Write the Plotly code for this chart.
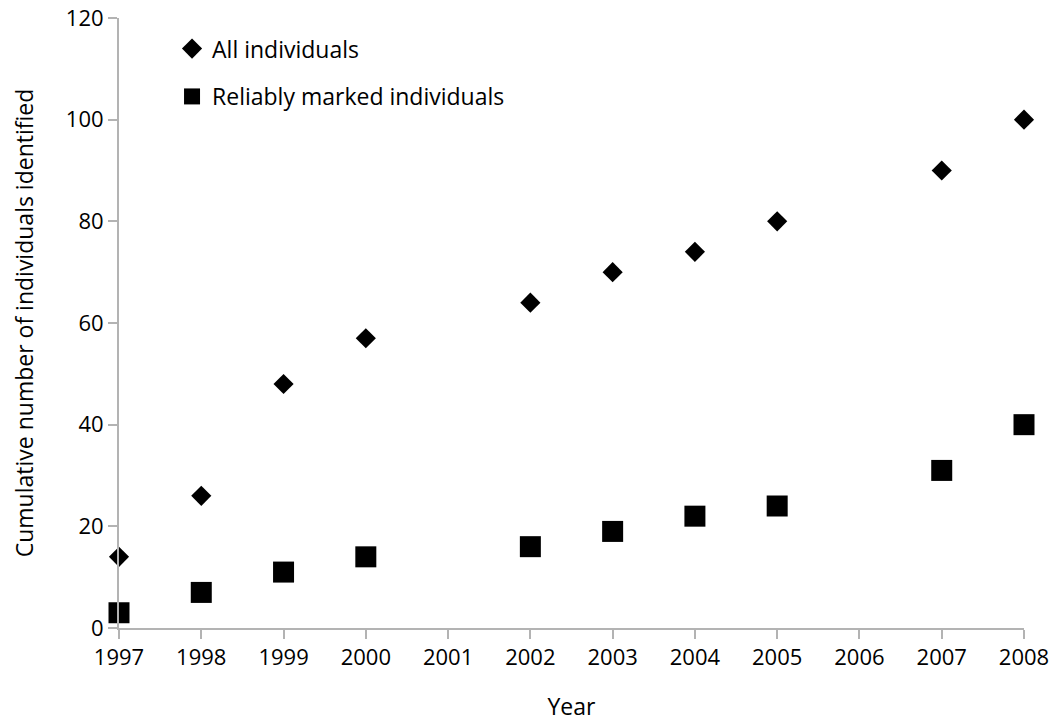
import plotly.graph_objects as go

years_all = [1997, 1998, 1999, 2000, 2002, 2003, 2004, 2005, 2007, 2008]
all_individuals = [14, 26, 48, 57, 64, 70, 74, 80, 90, 100]
years_rel = [1997, 1998, 1999, 2000, 2002, 2003, 2004, 2005, 2007, 2008]
reliably_marked = [3, 7, 11, 14, 16, 19, 22, 24, 31, 40]
x_ticks = list(range(1997, 2009))
y_ticks = [0, 20, 40, 60, 80, 100, 120]

font_family = "Open Sans, Noto Sans, sans-serif"

fig = go.Figure()
fig.add_trace(go.Scatter(
    x=years_all, y=all_individuals, mode="markers", name="All individuals",
    marker=dict(symbol="diamond", size=15.5, color="black"), cliponaxis=False,
    legend="legend"))
fig.add_trace(go.Scatter(
    x=years_rel, y=reliably_marked, mode="markers", name="Reliably marked individuals",
    marker=dict(symbol="square", size=21, color="black"), cliponaxis=False,
    legend="legend2"))

axis_color = "#b3b3b3"
tick_font = dict(family=font_family, size=22, color="black")
title_font = dict(family=font_family, size=23, color="black")
legend_common = dict(xanchor="left", yanchor="top", font=title_font,
                     bgcolor="rgba(0,0,0,0)", itemsizing="trace")
fig.update_layout(
    width=1049, height=714,
    margin=dict(l=111, r=33, t=10, b=94, autoexpand=False),
    plot_bgcolor="white", paper_bgcolor="white",
    font=dict(family=font_family, size=22, color="black"),
    showlegend=True,
    legend=dict(x=0.0586, y=0.985, **legend_common),
    legend2=dict(x=0.0586, y=0.9066, **legend_common),
    xaxis=dict(range=[1997, 2008], tickvals=x_ticks, ticktext=[str(v) for v in x_ticks],
               showgrid=False, zeroline=False, showline=True, linecolor=axis_color,
               linewidth=2, ticks="outside", ticklen=9, tickwidth=2, tickcolor=axis_color,
               tickfont=tick_font, automargin=False, ticklabeloverflow="allow",
               title=dict(text="Year", standoff=33, font=title_font)),
    yaxis=dict(range=[0, 120], tickvals=y_ticks, showgrid=False, zeroline=False,
               showline=True, linecolor=axis_color, linewidth=2, ticks="outside",
               ticklen=9, tickwidth=2, tickcolor=axis_color, tickfont=tick_font,
               automargin=False, ticklabeloverflow="allow",
               title=dict(text="Cumulative number of individuals identified", standoff=29,
                          font=title_font)),
)

fig.write_html("out.html")
